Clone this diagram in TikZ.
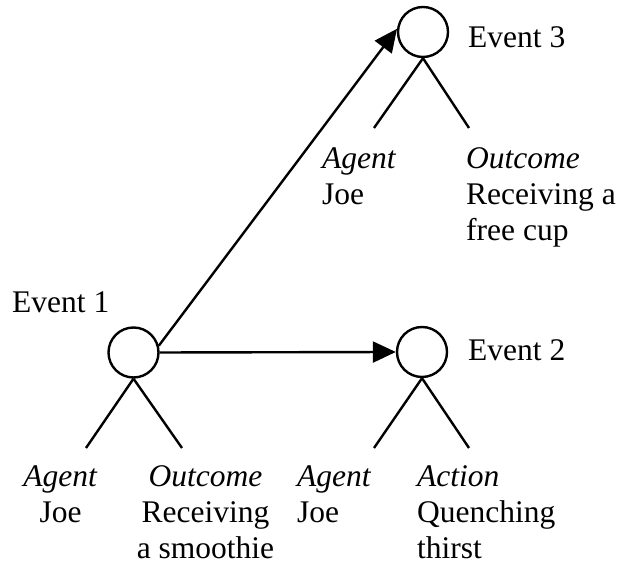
\documentclass[tikz,border=0pt]{standalone}
\usepackage{fontspec}
\setmainfont{Liberation Serif}
\usetikzlibrary{arrows.meta}

\begin{document}
\begin{tikzpicture}[x=1pt, y=1pt,
  event/.style={circle, draw, line width=2.4pt, minimum size=50pt, inner sep=0pt},
  leg/.style={line width=2.4pt},
  link/.style={line width=2.4pt, -{Triangle[length=23pt, width=21pt]}},
  evlabel/.style={inner sep=0pt, anchor=base west},
  role/.style={inner sep=0pt}]
\useasboundingbox (0,0) rectangle (623,572);
\tikzset{every node/.append style={font=\fontsize{31.5}{36}\selectfont}}

% events
\node[event] (E1) at (133.5,219.5) {};
\node[event] (E2) at (422,220) {};
\node[event] (E3) at (423,540) {};

\node[evlabel] (N1) at (12,259) {Event 1};
\node[evlabel] (N2) at (468,211) {Event 2};
\node[evlabel] (N3) at (468,524) {Event 3};

% leg ends
\coordinate (E1a) at (86,124);
\coordinate (E1b) at (182,124);
\coordinate (E2a) at (374,124);
\coordinate (E2b) at (469,124);
\coordinate (E3a) at (374,444);
\coordinate (E3b) at (469,444);

\draw[leg] (E1.south) -- (E1a);
\draw[leg] (E1.south) -- (E1b);
\draw[leg] (E2.south) -- (E2a);
\draw[leg] (E2.south) -- (E2b);
\draw[leg] (E3.south) -- (E3a);
\draw[leg] (E3.south) -- (E3b);

% links
\draw[link] (E1.east) -- (E2.west);
\draw[link] (E1.15) -- (E3.173);

% roles (base = last line)
\node[role, align=left, anchor=base west] (R3a) at (322,367) {\textit{Agent}\\Joe};
\node[role, align=left, anchor=base west] (R3b) at (466,331) {\textit{Outcome}\\Receiving a\\free cup};
\node[role, align=center, anchor=base] (R1a) at (60.5,49) {\textit{Agent}\\Joe};
\node[role, align=center, anchor=base] (R1b) at (205.5,13) {\textit{Outcome}\\Receiving\\a smoothie};
\node[role, align=left, anchor=base west] (R2a) at (297,49) {\textit{Agent}\\Joe};
\node[role, align=left, anchor=base west] (R2b) at (417,13) {\textit{Action}\\Quenching\\thirst};
\end{tikzpicture}
\end{document}
